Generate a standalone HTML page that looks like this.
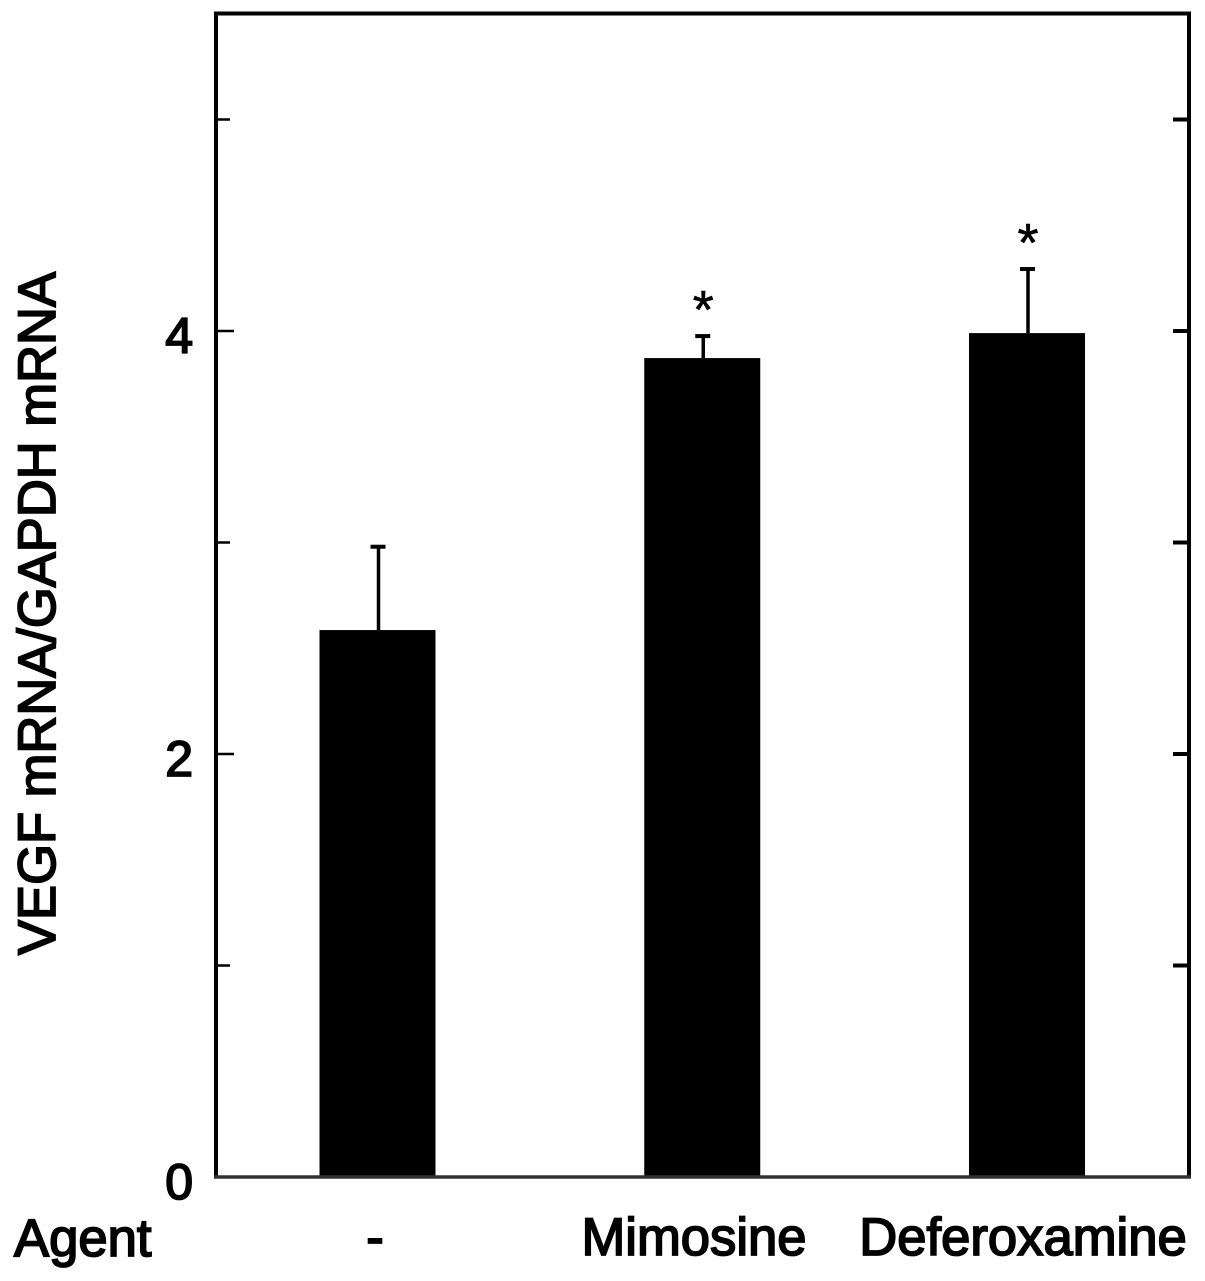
<!DOCTYPE html>
<html lang="en">
<head>
<meta charset="utf-8">
<title>VEGF mRNA/GAPDH mRNA by agent</title>
<style>
html,body{margin:0;padding:0;background:#fff;width:1205px;height:1281px;overflow:hidden}
svg{display:block}
text{font-family:"Liberation Sans",Arial,sans-serif;fill:#000;stroke:#000;stroke-width:1.8px}
</style>
</head>
<body>
<svg id="chart" xmlns="http://www.w3.org/2000/svg" width="1205" height="1281" viewBox="0 0 1205 1281"></svg>
<script>
const categories = ['-', 'Mimosine', 'Deferoxamine'];
const values = [2.586, 3.872, 3.99];
const errors = [0.394, 0.104, 0.303];
const significant = [false, true, true];
const allTicks = [1, 2, 3, 4, 5];
const tickLabels = [0, 2, 4];
const yAxisTitle = 'VEGF mRNA/GAPDH mRNA';
const rowTitle = 'Agent';

const svg = document.getElementById('chart');
const NS = 'http://www.w3.org/2000/svg';
function yScale(v) { return 1177 - v * 211.5; }
function barCenter(i) { return 377.5 + i * 324.75; }
function make(tag, attrs, parent) {
  const el = document.createElementNS(NS, tag);
  for (const k in attrs) el.setAttribute(k, attrs[k]);
  (parent || svg).appendChild(el);
  return el;
}

const labelX = [375, 694, 1023];

categories.forEach((c, i) => {
  const cx = barCenter(i);
  const top = yScale(values[i]);
  const errTop = yScale(values[i] + errors[i]);
  const bar = make('rect', { x: cx - 58, y: top, width: 116, height: 1177 - top, fill: '#000' });
  
  
  const stem = make('line', { x1: cx + 1, x2: cx + 1, y1: errTop, y2: top, stroke: '#000', 'stroke-width': 3.5 });
  
  
  const cap = make('line', { x1: cx - 7, x2: cx + 8, y1: errTop, y2: errTop, stroke: '#000', 'stroke-width': 4 });
  
  
  if (significant[i]) {
    const star = make('text', { x: cx + 1, y: errTop - 8, 'text-anchor': 'middle', 'font-size': 54, style: 'stroke-width:0.6px' });
    
    
    star.textContent = '*';
  }
  const lab = make('text', { x: labelX[i], y: 1255, 'text-anchor': 'middle', 'font-size': 52.6 });
  
  
  lab.textContent = c;
});

const frame = make('path', { d: 'M216 1177V13.5H1189V1177', fill: 'none', stroke: '#000', 'stroke-width': 4 });


const xAxis = make('line', { x1: 214, x2: 1191, y1: yScale(0), y2: yScale(0), stroke: '#333', 'stroke-width': 3.5 });



allTicks.forEach(t => {
  const y = yScale(t);
  const major = t % 2 === 0;
  const lt = make('line', { x1: 216, x2: major ? 234 : 230, y1: y, y2: y, stroke: '#000', 'stroke-width': 2.5 });
  
  
  const rt = make('line', { x1: 1173, x2: 1189, y1: y, y2: y, stroke: '#000', 'stroke-width': 4 });
  
  
});

tickLabels.forEach(t => {
  const lab = make('text', { x: 193, y: yScale(t) + 22, 'text-anchor': 'end', 'font-size': 50 });
  
  
  lab.textContent = t;
});

const yTitle = make('text', { transform: 'translate(55,955) rotate(-90)', 'font-size': 53, textLength: 683, lengthAdjust: 'spacingAndGlyphs' });


yTitle.textContent = yAxisTitle;

const agent = make('text', { x: 14, y: 1256, 'font-size': 52.6 });


agent.textContent = rowTitle;
</script>
</body>
</html>
